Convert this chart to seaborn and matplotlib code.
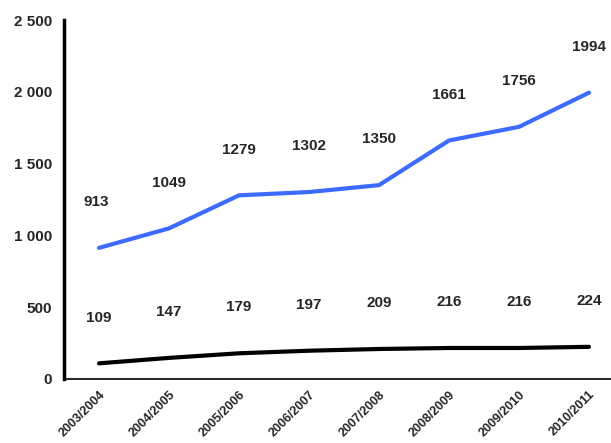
import numpy as np
import pandas as pd
from matplotlib import pyplot as plt
from matplotlib.ticker import FuncFormatter, FixedLocator
import seaborn as sns

years = ['2003/2004', '2004/2005', '2005/2006', '2006/2007',
         '2007/2008', '2008/2009', '2009/2010', '2010/2011']
total = [913, 1049, 1279, 1302, 1350, 1661, 1756, 1994]
sub = [109, 147, 179, 197, 209, 216, 216, 224]

df = pd.DataFrame({
    'year': years * 2,
    'value': total + sub,
    'series': ['total'] * len(years) + ['sub'] * len(years),
})

sns.set_style('white')
plt.rcParams['font.family'] = ['Liberation Sans', 'DejaVu Sans']

fig = plt.figure(figsize=(6.11, 4.43), dpi=100)
ax = fig.add_axes([64/611, 64/443, 560/611, 359/443])

sns.lineplot(data=df, x='year', y='value', hue='series',
             palette={'total': '#3D6BFF', 'sub': 'black'},
             linewidth=3, legend=False, ax=ax, sort=False)

# data labels above each point
for i, v in enumerate(total):
    ax.annotate(str(v), (i, v), xytext=(-2 if i == 0 else 0, 33), textcoords='offset points',
                ha='center', va='center', fontsize=11, fontweight='bold')
for i, v in enumerate(sub):
    ax.annotate(str(v), (i, v), xytext=(0, 33), textcoords='offset points',
                ha='center', va='center', fontsize=11, fontweight='bold')

ax.set_xlim(-0.5, len(years) - 0.5)
ax.set_ylim(0, 2500)
ax.set_yticks(np.arange(0, 2501, 500))
ax.yaxis.set_major_formatter(FuncFormatter(lambda v, p: f'{int(v):,}'.replace(',', ' ')))

ax.set_xticks(range(len(years)))
ax.set_xticklabels(years, rotation=45, ha='right', va='top', rotation_mode='anchor',
                   fontsize=9, fontweight='bold')
ax.xaxis.set_minor_locator(FixedLocator(np.arange(-0.5, len(years), 1.0)))
ax.tick_params(axis='x', which='major', length=0, pad=7)
ax.tick_params(axis='x', which='minor', length=5, width=1, color='black', direction='out')
ax.tick_params(axis='y', length=5, width=1, color='black', direction='out', labelsize=11)
for lbl in ax.get_yticklabels():
    lbl.set_fontweight('bold')

ax.set_xlabel('')
ax.set_ylabel('')
sns.despine(ax=ax, top=True, right=True)
ax.spines['left'].set_linewidth(2.5)
ax.spines['left'].set_color('black')
ax.spines['bottom'].set_linewidth(1.2)
ax.spines['bottom'].set_color('black')

fig.savefig('out.png', dpi=100)
